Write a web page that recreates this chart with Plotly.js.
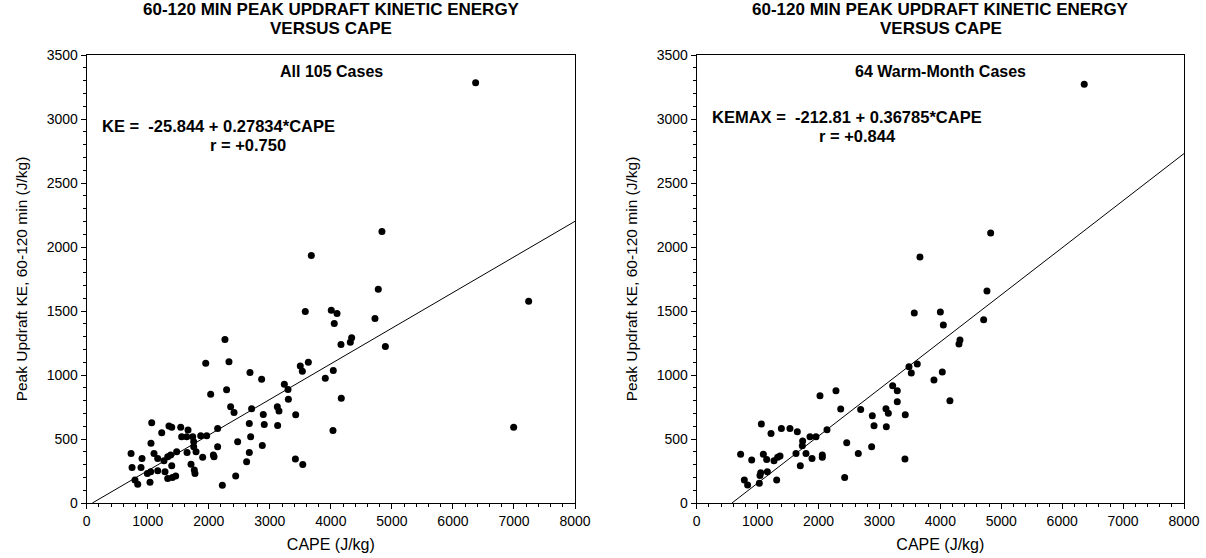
<!DOCTYPE html>
<html>
<head>
<meta charset="utf-8">
<script src="https://cdn.plot.ly/plotly-3.0.1.min.js"></script>
<style>html,body{margin:0;padding:0;background:#fff;}#chart{width:1206px;height:558px;}</style>
</head>
<body>
<div id="chart"></div>
<script>
// ---- All 105 cases (CAPE J/kg, KE J/kg) ----
const allCape = [727,743,791,836,906,890,1065,1053,1103,994,1048,1037,1163,1163,1229,1266,1283,1327,1348,1393,
  1376,1393,1327,1403,1458,1474,1540,1556,1660,1638,1644,1709,1763,1774,1737,1753,1753,1791,1900,1868,
  1966,1950,2031,2075,2086,2145,2145,2222,2265,2331,2292,2358,2414,2441,2473,2675,2702,2664,2686,2664,
  2620,2866,2893,2909,2877,3123,3150,3128,3238,4837,3680,4777,3581,4007,4101,4056,4723,4341,4319,4166,
  4893,3499,3533,3631,4040,3909,3298,3304,4171,7241,4035,6995,6372,3424,3419,3540];
const allKE = [387,278,179,146,348,278,627,466,387,231,244,162,348,252,548,330,244,362,601,591,
  375,291,192,200,211,400,591,518,570,518,395,302,258,231,518,479,439,400,357,526,
  526,1091,849,375,362,583,439,138,1278,1103,884,752,708,211,479,1020,736,622,518,395,
  323,966,692,614,450,752,718,606,927,2122,1934,1669,1497,1505,1481,1403,1442,1291,1255,1239,
  1223,1070,1029,1099,1036,974,887,810,818,1576,567,591,3284,690,343,300];

// ---- 64 warm-month cases ----
const warmCape = [721,782,836,903,1061,1094,1028,1039,1051,1149,1160,1220,1269,1313,1329,1368,1390,1531,1652,1630,
  1701,1739,1734,1794,1860,1958,1893,2024,2062,2062,2139,2286,2364,2429,2463,2692,2653,2883,2911,2872,
  3107,3146,3113,3217,4826,3665,4765,3572,4000,4049,4711,4322,4306,3485,3523,3621,4032,3895,4157,3293,
  3293,3424,6362,3419];
const warmKE = [380,179,140,335,617,380,154,214,236,340,244,543,330,179,357,367,583,583,556,387,
  291,484,447,387,518,518,348,838,375,357,572,877,734,200,471,731,387,682,603,439,
  736,701,596,916,2109,1921,1656,1484,1492,1390,1431,1273,1242,1065,1015,1086,1023,961,799,877,
  791,690,3271,343];

// ---- regression equations [intercept, slope] ----
const fitAll = [-25.844, 0.27834];
const fitWarm = [-212.81, 0.36785];

const xTicks = [0,1000,2000,3000,4000,5000,6000,7000,8000];
const yTicks = [0,500,1000,1500,2000,2500,3000,3500];

const FONT = 'Liberation Sans, Arial, sans-serif';
function fitLine(f){
  const x0 = -f[0]/f[1];
  const xs = [Math.max(0,x0), 8000];
  return {x: xs, y: xs.map(v => f[0] + f[1]*v)};
}
const lA = fitLine(fitAll), lW = fitLine(fitWarm);

const traces = [
  {x: allCape, y: allKE, type:'scatter', mode:'markers', marker:{color:'#000', size:7}, xaxis:'x', yaxis:'y', cliponaxis:false},
  {x: lA.x, y: lA.y, type:'scatter', mode:'lines', line:{color:'#000', width:1}, xaxis:'x', yaxis:'y'},
  {x: warmCape, y: warmKE, type:'scatter', mode:'markers', marker:{color:'#000', size:7}, xaxis:'x2', yaxis:'y2', cliponaxis:false},
  {x: lW.x, y: lW.y, type:'scatter', mode:'lines', line:{color:'#000', width:1}, xaxis:'x2', yaxis:'y2'}
];

function xax(dom, anchor){
  return {domain: dom, anchor: anchor, range:[0,8000], tickvals: xTicks, ticktext: xTicks.map(String),
    showgrid:false, zeroline:false, showline:true, linecolor:'#000', linewidth:1, mirror:true,
    ticks:'outside', ticklen:5, tickcolor:'#000', tickfont:{family:FONT, size:14, color:'#000'},
    minor:{dtick:200, ticks:'outside', ticklen:3, tickcolor:'#000'},
    title:{text:'CAPE (J/kg)', font:{family:FONT, size:16, color:'#000'}, standoff:11}};
}
function yax(anchor){
  return {domain:[55/558, 503/558], anchor: anchor, range:[0,3500], tickvals: yTicks, ticktext: yTicks.map(String),
    showgrid:false, zeroline:false, showline:true, linecolor:'#000', linewidth:1, mirror:true,
    ticks:'outside', ticklen:5, tickcolor:'#000', tickfont:{family:FONT, size:14, color:'#000'},
    minor:{dtick:100, ticks:'outside', ticklen:3, tickcolor:'#000'},
    title:{text:'Peak Updraft KE, 60-120 min (J/kg)', font:{family:FONT, size:15.5, color:'#000'}, standoff:15}};
}
function ann(text, px, py, size, bold, xanchor){
  return {text: bold ? '<b>'+text+'</b>' : text, x: px/1206, y: 1-py/558, xref:'paper', yref:'paper',
    xanchor: xanchor||'center', yanchor:'middle', showarrow:false, font:{family:FONT, size:size, color:'#000'}};
}
const NB = '\u00A0';
const layout = {
  width:1206, height:558, margin:{l:0,r:0,t:0,b:0}, paper_bgcolor:'#fff', plot_bgcolor:'#fff', showlegend:false,
  xaxis: xax([86.7/1206, 575/1206], 'y'),
  yaxis: yax('x'),
  xaxis2: xax([696.7/1206, 1184/1206], 'y2'),
  yaxis2: yax('x2'),
  annotations: [
    ann('60-120 MIN PEAK UPDRAFT KINETIC ENERGY', 331, 10, 17, true),
    ann('VERSUS CAPE', 331, 29, 17, true),
    ann('60-120 MIN PEAK UPDRAFT KINETIC ENERGY', 941, 10, 17, true),
    ann('VERSUS CAPE', 941, 29, 17, true),
    ann('All 105 Cases', 331, 71, 16, true),
    ann('64 Warm-Month Cases', 941, 71, 16, true),
    ann('KE ='+NB+NB+'-25.844 + 0.27834*CAPE', 100, 126, 16.5, true, 'left'),
    ann('r = +0.750', 248, 145, 16.5, true),
    ann('KEMAX ='+NB+NB+'-212.81 + 0.36785*CAPE', 710, 117, 16.5, true, 'left'),
    ann('r = +0.844', 857, 136, 16.5, true)
  ]
};
Plotly.newPlot('chart', traces, layout, {staticPlot:true, displayModeBar:false});
</script>
</body>
</html>
